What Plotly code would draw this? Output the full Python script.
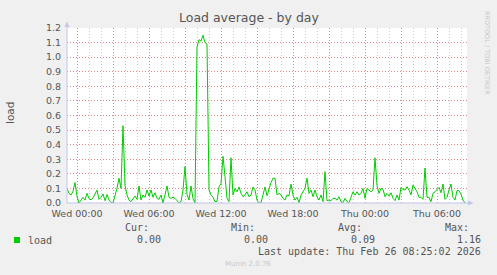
import pandas as pd
import plotly.graph_objects as go

# ---- data (10-minute samples) ----
start_time = "2026-02-24 23:10"
step_minutes = 10
load = [
    0.10, 0.066, 0.055, 0.08, 0.14, 0.045, 0.0, 0.016, 0.039, 0.02,
    0.066, 0.03, 0.022, 0.035, 0.06, 0.089, 0.025, 0.039, 0.062, 0.016,
    0.059, 0.02, 0.005, 0.0, 0.05, 0.10, 0.17, 0.10, 0.53, 0.12,
    0.055, 0.02, 0.009, 0.032, 0.048, 0.025, 0.117, 0.02, 0.055, 0.039,
    0.089, 0.048, 0.089, 0.039, 0.07, 0.032, 0.025, 0.055, 0.0, 0.055,
    0.117, 0.039, 0.032, 0.039, 0.032, 0.016, 0.0, 0.009, 0.089, 0.25,
    0.06, 0.02, 0.117, 0.03, 0.0, 1.07, 1.12, 1.11, 1.15, 1.10,
    1.09, 0.09, 0.055, 0.039, 0.01, 0.01, 0.11, 0.134, 0.32, 0.18,
    0.032, 0.009, 0.31, 0.055, 0.10, 0.077, 0.11, 0.066, 0.043, 0.055,
    0.077, 0.043, 0.055, 0.11, 0.09, 0.02, 0.002, 0.002, 0.066, 0.11,
    0.05, 0.10, 0.14, 0.17, 0.17, 0.055, 0.066, 0.055, 0.032, 0.02,
    0.055, 0.05, 0.13, 0.055, 0.02, 0.039, 0.002, 0.055, 0.077, 0.10,
    0.17, 0.066, 0.089, 0.043, 0.089, 0.043, 0.02, 0.055, 0.01, 0.215,
    0.016, 0.02, 0.016, 0.032, 0.032, 0.02, 0.043, 0.009, 0.002, 0.032,
    0.009, 0.002, 0.04, 0.077, 0.055, 0.077, 0.055, 0.066, 0.10, 0.032,
    0.10, 0.089, 0.077, 0.089, 0.31, 0.12, 0.066, 0.10, 0.094, 0.043,
    0.066, 0.048, 0.07, 0.032, 0.016, 0.055, 0.02, 0.107, 0.094, 0.089,
    0.112, 0.089, 0.055, 0.123, 0.10, 0.077, 0.039, 0.039, 0.025, 0.24,
    0.039, 0.039, 0.009, 0.066, 0.077, 0.089, 0.107, 0.07, 0.13, 0.025,
    0.039, 0.089, 0.13, 0.039, 0.02, 0.085, 0.085, 0.06, 0.02, 0.0,
]
times = pd.date_range(start_time, periods=len(load), freq=f"{step_minutes}min")

x_range = ["2026-02-24 23:10", "2026-02-26 08:30"]
major_ticks = pd.date_range("2026-02-25 00:00", "2026-02-26 06:00", freq="3h")
tick_labels = ["Wed 00:00", "", "Wed 06:00", "", "Wed 12:00", "", "Wed 18:00", "",
               "Thu 00:00", "", "Thu 06:00"]

title_text = "Load average - by day"
y_title = "load"
series_name = "load"
stat_headers = ["Cur:", "Min:", "Avg:", "Max:"]
stat_values = ["0.00", "0.00", "0.09", "1.16"]
last_update = "Last update: Thu Feb 26 08:25:02 2026"
footer = "Munin 2.0.76"
side_text = "RRDTOOL / TOBI OETIKER"

# ---- layout helpers (pixel -> paper) ----
W, H = 497, 275
L, R, T, B = 67, 467, 28, 203


def px(x):
    return (x - L) / (R - L)


def py(y):
    return (B - y) / (B - T)


green = "#00CC00"
txt = "#555555"
axis_col = "#C4C4EC"
major_grid = "#E88888"
minor_grid = "#CCCCCC"

fig = go.Figure()
fig.add_trace(go.Scatter(x=times, y=load, mode="lines",
                         line=dict(color=green, width=1), showlegend=False,
                         hoverinfo="skip"))

fig.update_layout(
    width=W, height=H,
    margin=dict(l=L, r=W - R, t=T, b=H - B, pad=0),
    paper_bgcolor="#F0F0F0", plot_bgcolor="#FFFFFF",
    font=dict(family="DejaVu Sans", size=9.5, color=txt),
    showlegend=False,
)
fig.update_xaxes(
    type="date", range=x_range,
    tickmode="array", tickvals=list(major_ticks), ticktext=tick_labels,
    showgrid=True, gridcolor=major_grid, griddash="1px,2px", gridwidth=1,
    ticks="", showline=False, zeroline=False, ticklabelstandoff=3,
    tickfont=dict(family="DejaVu Sans", size=9.5, color=txt),
    minor=dict(dtick=3600000, showgrid=True, gridcolor=minor_grid,
               griddash="1px,2px", gridwidth=1, tick0="2026-02-25 00:00"),
)
fig.update_yaxes(
    range=[0, 1.2], dtick=0.1, tickformat=".1f",
    showgrid=True, gridcolor=major_grid, griddash="1px,2px", gridwidth=1,
    ticks="", showline=False, zeroline=False, ticklabelstandoff=5,
    tickfont=dict(family="DejaVu Sans", size=9.5, color=txt),
)

shapes = [
    dict(type="line", xref="paper", yref="paper", x0=px(67), x1=px(470),
         y0=py(203), y1=py(203), line=dict(color=axis_col, width=1)),
    dict(type="line", xref="paper", yref="paper", x0=px(67), x1=px(67),
         y0=py(203), y1=py(24), line=dict(color=axis_col, width=1)),
    dict(type="path", xref="paper", yref="paper",
         path=f"M {px(64.5)} {py(27)} L {px(69.5)} {py(27)} L {px(67)} {py(21.5)} Z",
         fillcolor=axis_col, line=dict(width=0)),
    dict(type="path", xref="paper", yref="paper",
         path=f"M {px(468)} {py(200.5)} L {px(468)} {py(205.5)} L {px(473.5)} {py(203)} Z",
         fillcolor=axis_col, line=dict(width=0)),
    dict(type="rect", xref="paper", yref="paper", x0=px(14), x1=px(20),
         y0=py(243), y1=py(237), fillcolor=green, line=dict(width=0)),
]
fig.update_layout(shapes=shapes)

mono = dict(family="DejaVu Sans Mono", size=10, color=txt)
ann = [
    dict(text=title_text, x=px(248.5), y=py(18), xanchor="center", yanchor="middle",
         font=dict(family="DejaVu Sans", size=12.5, color=txt)),
    dict(text=y_title, x=px(10), y=py(113), xanchor="center", yanchor="middle",
         textangle=-90, font=dict(family="DejaVu Sans", size=10.5, color=txt)),
    dict(text=side_text, x=px(487), y=py(53), xanchor="center", yanchor="middle",
         textangle=90, font=dict(family="DejaVu Sans", size=6.5, color="#C8C8C8")),
    dict(text=series_name, x=px(26), y=py(240), xanchor="left", yanchor="middle",
         font=mono),
    dict(text=last_update, x=px(483), y=py(251.5), xanchor="right", yanchor="middle",
         font=mono),
    dict(text=footer, x=px(248), y=py(264), xanchor="center", yanchor="middle",
         font=dict(family="DejaVu Sans", size=7, color="#C8C8C8")),
]
header_right = [150.5, 257, 363.5, 470.5]
value_right = [163, 269.5, 376.5, 483]
for h, v, hx, vx in zip(stat_headers, stat_values, header_right, value_right):
    ann.append(dict(text=h, x=px(hx), y=py(227), xanchor="right", yanchor="middle", font=mono))
    ann.append(dict(text=v, x=px(vx), y=py(239.5), xanchor="right", yanchor="middle", font=mono))
for a in ann:
    a.update(xref="paper", yref="paper", showarrow=False)
fig.update_layout(annotations=ann)

fig.write_html("out.html")
